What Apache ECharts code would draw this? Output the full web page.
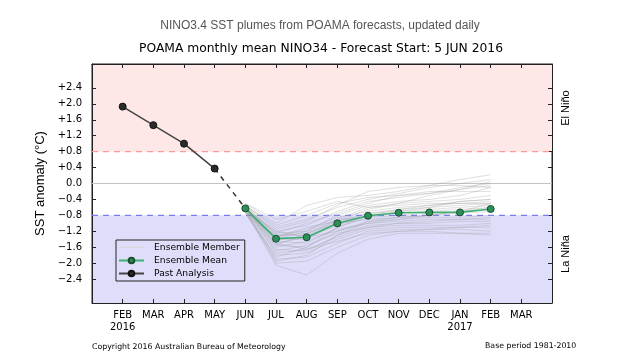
<!DOCTYPE html>
<html>
<head>
<meta charset="utf-8">
<script src="https://cdn.jsdelivr.net/npm/echarts@6/dist/echarts.min.js"></script>
<style>
html,body{margin:0;padding:0;background:#fff;}
#chart{width:627px;height:361px;}
</style>
</head>
<body>
<div id="chart"></div>
<script>
// Month positions: 0 = JAN 2016 ... 15 = APR 2017
var monthPositions = [1,2,3,4,5,6,7,8,9,10,11,12,13,14];
var monthLabels = ['FEB\n2016','MAR','APR','MAY','JUN','JUL','AUG','SEP','OCT','NOV','DEC','JAN\n2017','FEB','MAR'];
var yTicks = [-2.4,-2.0,-1.6,-1.2,-0.8,-0.4,0,0.4,0.8,1.2,1.6,2.0,2.4];

var pastMonths = [1,2,3,4];
var pastValues = [1.93,1.465,1.0,0.375];

var forecastMonths = [5,6,7,8,9,10,11,12,13];
var meanValues = [-0.625,-1.385,-1.35,-1.0,-0.81,-0.735,-0.725,-0.725,-0.64];

var ensembleMembers = [
  [-0.50,-1.00,-0.55,-0.35,-0.30,-0.20,-0.05,0.10,0.22],
  [-0.55,-1.10,-0.90,-0.60,-0.40,-0.25,-0.10,0.00,0.10],
  [-0.60,-1.20,-1.05,-0.70,-0.45,-0.35,-0.25,-0.10,0.00],
  [-0.65,-1.25,-1.20,-0.80,-0.55,-0.45,-0.40,-0.30,-0.10],
  [-0.55,-1.30,-1.30,-0.90,-0.60,-0.50,-0.45,-0.40,-0.30],
  [-0.60,-1.35,-1.15,-0.85,-0.70,-0.60,-0.55,-0.50,-0.45],
  [-0.70,-1.40,-1.40,-1.00,-0.75,-0.65,-0.60,-0.55,-0.50],
  [-0.60,-1.45,-1.50,-1.10,-0.85,-0.70,-0.65,-0.60,-0.55],
  [-0.65,-1.50,-1.35,-1.05,-0.80,-0.75,-0.70,-0.65,-0.60],
  [-0.70,-1.30,-1.25,-1.00,-0.90,-0.85,-0.80,-0.75,-0.70],
  [-0.55,-1.55,-1.60,-1.20,-0.95,-0.90,-0.85,-0.85,-0.80],
  [-0.60,-1.60,-1.45,-1.15,-1.00,-0.95,-0.90,-0.90,-0.90],
  [-0.65,-1.65,-1.70,-1.30,-1.05,-1.00,-1.00,-0.95,-0.95],
  [-0.70,-1.70,-1.55,-1.25,-1.10,-1.05,-1.05,-1.05,-1.00],
  [-0.75,-1.80,-1.75,-1.40,-1.15,-1.10,-1.10,-1.10,-1.10],
  [-0.60,-1.90,-1.85,-1.50,-1.20,-1.15,-1.15,-1.15,-1.20],
  [-0.65,-2.00,-1.95,-1.60,-1.30,-1.20,-1.20,-1.25,-1.30],
  [-0.70,-2.05,-2.30,-1.75,-1.40,-1.25,-1.25,-1.25,-1.25],
  [-0.55,-1.15,-0.95,-0.55,-0.20,-0.10,-0.05,-0.05,-0.10],
  [-0.60,-1.25,-1.00,-0.75,-0.50,-0.30,-0.20,-0.20,-0.20],
  [-0.50,-0.90,-0.70,-0.45,-0.60,-0.55,-0.50,-0.50,-0.50],
  [-0.65,-1.35,-1.10,-0.95,-0.65,-0.50,-0.30,-0.15,0.05],
  [-0.70,-1.55,-1.25,-0.95,-0.75,-0.70,-0.60,-0.45,-0.40],
  [-0.60,-1.40,-1.20,-0.90,-0.85,-0.80,-0.75,-0.70,-0.65],
  [-0.55,-1.75,-1.65,-1.35,-1.10,-1.00,-0.95,-0.90,-0.85],
  [-0.75,-1.85,-1.60,-1.10,-0.80,-0.65,-0.55,-0.45,-0.40],
  [-0.65,-1.20,-1.35,-1.20,-1.00,-0.90,-0.80,-0.70,-0.50],
  [-0.60,-1.50,-1.65,-1.45,-1.25,-1.20,-1.15,-1.10,-1.05],
  [-0.70,-1.95,-1.80,-1.30,-0.95,-0.85,-0.80,-0.70,-0.60],
  [-0.55,-1.05,-0.80,-0.50,-0.35,-0.30,-0.25,-0.15,-0.05]
];

var xRange = [0, 15];
var yRange = [-3, 3];
var elNinoThreshold = 0.8;
var laNinaThreshold = -0.8;

function pairs(xs, ys){ return xs.map(function(x,i){ return [x, ys[i]]; }); }
function fmtY(v){
  if (Math.abs(v) < 1e-9) return '0.0';
  return (v > 0 ? '+' : '\u2212') + Math.abs(v).toFixed(1);
}
function fmtX(v){
  var i = monthPositions.indexOf(Math.round(v));
  return i >= 0 ? monthLabels[i] : '';
}
function refLine(value, color, type){
  return {
    type:'line', data:[[xRange[0], value],[xRange[1], value]], silent:true, z:3,
    symbol:'none', showSymbol:false,
    lineStyle:{color:color, type:type, width:1.2, opacity:1},
    emphasis:{disabled:true}
  };
}

var chart = echarts.init(document.getElementById('chart'), null, {renderer:'canvas'});

var series = [];
// background bands
series.push({
  type:'line', data:[], silent:true, z:0,
  markArea:{
    silent:true, z:0,
    data:[
      [{yAxis:elNinoThreshold, itemStyle:{color:'#fde7e7', borderWidth:0, opacity:1}},{yAxis:yRange[1]}],
      [{yAxis:yRange[0], itemStyle:{color:'#dedefb', borderWidth:0, opacity:1}},{yAxis:laNinaThreshold}]
    ]
  }
});
series.push(refLine(elNinoThreshold, '#ff9a9a', [6,5]));
series.push(refLine(0, '#c4c4c4', 'solid'));
series.push(refLine(laNinaThreshold, '#7b7bf0', [6,5]));

ensembleMembers.forEach(function(m){
  series.push({
    name:'Ensemble Member', type:'line', data:pairs(forecastMonths, m),
    showSymbol:false, symbol:'none', silent:true, z:4,
    lineStyle:{color:'rgba(150,150,150,0.3)', width:1},
    itemStyle:{color:'rgba(150,150,150,0.3)'}
  });
});

// dashed link from last analysis to first forecast mean
series.push({
  type:'line', data:[[pastMonths[pastMonths.length-1], pastValues[pastValues.length-1]],[forecastMonths[0], meanValues[0]]],
  symbol:'none', silent:true, z:5,
  lineStyle:{color:'#333', width:1.5, type:[5,5]}
});

series.push({
  name:'Ensemble Mean', type:'line', data:pairs(forecastMonths, meanValues),
  symbol:'circle', symbolSize:7, z:6,
  lineStyle:{color:'#3fae72', width:1.6},
  itemStyle:{color:'#2c8f58', borderColor:'#1d4d33', borderWidth:1}
});

series.push({
  name:'Past Analysis', type:'line', data:pairs(pastMonths, pastValues),
  symbol:'circle', symbolSize:7, z:6,
  lineStyle:{color:'#444', width:1.5},
  itemStyle:{color:'#2b2b2b', borderColor:'#111', borderWidth:1}
});

var tickFont = {fontFamily:'DejaVu Sans', fontSize:10, color:'#000'};
var tickStyle = {show:true, inside:true, length:4, lineStyle:{color:'#222', width:1}};

var option = {
  animation:false,
  backgroundColor:'#fff',
  title:[
    {text:'NINO3.4 SST plumes from POAMA forecasts, updated daily', left:315, top:15, textAlign:'center',
     textStyle:{fontFamily:'Liberation Sans', fontSize:12, fontWeight:'normal', color:'#555'}},
    {text:'POAMA monthly mean NINO34 - Forecast Start: 5 JUN 2016', left:316, top:38, textAlign:'center',
     textStyle:{fontFamily:'DejaVu Sans', fontSize:12.3, fontWeight:'normal', color:'#000'}}
  ],
  grid:{left:92, right:75, top:64, bottom:58, show:true, borderColor:'#222', borderWidth:1, backgroundColor:'transparent'},
  legend:{
    data:[
      {name:'Ensemble Member', itemStyle:{opacity:0}, lineStyle:{color:'#d8d8d8', width:1}},
      {name:'Ensemble Mean'},
      {name:'Past Analysis'}
    ],
    orient:'vertical', left:116, top:240, itemWidth:25, itemHeight:7, itemGap:4,
    padding:[3,5,3,2], borderColor:'#222', borderWidth:1, borderRadius:0,
    backgroundColor:'rgba(222,222,251,0.6)',
    selectedMode:false,
    textStyle:{fontFamily:'DejaVu Sans', fontSize:9.2, color:'#000', padding:[0,0,0,5]}
  },
  xAxis:[
    {type:'value', min:xRange[0], max:xRange[1], position:'bottom',
     axisLine:{show:true, onZero:false, lineStyle:{color:'#222'}},
     axisTick:Object.assign({customValues:monthPositions}, tickStyle),
     axisLabel:Object.assign({show:true, customValues:monthPositions, formatter:fmtX, margin:6, lineHeight:12}, tickFont),
     splitLine:{show:false}},
    {type:'value', min:xRange[0], max:xRange[1], position:'top',
     axisLine:{show:true, onZero:false, lineStyle:{color:'#222'}},
     axisTick:Object.assign({customValues:monthPositions}, tickStyle),
     axisLabel:{show:false}, splitLine:{show:false}}
  ],
  yAxis:[
    {type:'value', min:yRange[0], max:yRange[1], position:'left',
     name:'SST anomaly (\u00b0C)', nameLocation:'middle', nameGap:30, nameRotate:90,
     nameTextStyle:{fontFamily:'Liberation Sans', fontSize:13, color:'#000'},
     axisLine:{show:true, onZero:false, lineStyle:{color:'#222'}},
     axisTick:Object.assign({customValues:yTicks}, tickStyle),
     axisLabel:Object.assign({show:true, customValues:yTicks, formatter:fmtY, margin:10}, tickFont),
     splitLine:{show:false}},
    {type:'value', min:yRange[0], max:yRange[1], position:'right',
     axisLine:{show:true, onZero:false, lineStyle:{color:'#222'}},
     axisTick:Object.assign({customValues:yTicks}, tickStyle),
     axisLabel:{show:false}, splitLine:{show:false}}
  ],
  graphic:[
    {type:'text', x:566, y:108, rotation:Math.PI/2,
     style:{text:'El Ni\u00f1o', fontFamily:'Liberation Sans', fontSize:11, fill:'#000', textAlign:'center', textVerticalAlign:'middle'}},
    {type:'text', x:566, y:254, rotation:Math.PI/2,
     style:{text:'La Ni\u00f1a', fontFamily:'Liberation Sans', fontSize:11, fill:'#000', textAlign:'center', textVerticalAlign:'middle'}},
    {type:'text', x:92, y:347,
     style:{text:'Copyright 2016 Australian Bureau of Meteorology', fontFamily:'DejaVu Sans', fontSize:7.8, fill:'#000', textAlign:'left', textVerticalAlign:'middle'}},
    {type:'text', x:485, y:346,
     style:{text:'Base period 1981-2010', fontFamily:'DejaVu Sans', fontSize:7.8, fill:'#000', textAlign:'left', textVerticalAlign:'middle'}}
  ],
  series:series
};
chart.setOption(option);
</script>
</body>
</html>
